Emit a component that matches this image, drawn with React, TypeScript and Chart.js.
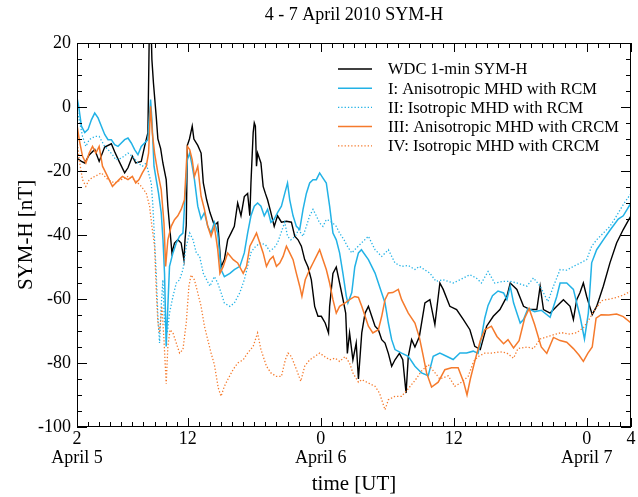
import React, { useEffect, useRef } from "react";
import { Chart, registerables } from "chart.js";

Chart.register(...registerables);

// Time in hours since 5 April 2010 00:00 UT
const wdcT = [2.0, 2.4, 2.7, 3.1, 3.6, 4.0, 4.5, 5.1, 5.4, 5.8, 6.3, 6.6, 7.0, 7.3, 7.8, 8.1, 8.4, 8.55, 8.65, 8.76, 8.9, 9.15, 9.3, 9.55, 9.75, 10.05, 10.2, 10.35, 10.57, 10.8, 11.1, 11.4, 11.65, 11.75, 11.86, 11.96, 12.15, 12.4, 12.55, 12.9, 13.2, 13.4, 13.7, 14.0, 14.4, 14.7, 15.0, 15.3, 15.6, 15.9, 16.2, 16.5, 16.8, 17.1, 17.4, 17.6, 17.7, 17.9, 18.0, 18.1, 18.2, 18.3, 18.6, 18.8, 19.0, 19.2, 19.5, 19.8, 20.1, 20.45, 20.9, 21.35, 21.65, 21.95, 22.25, 22.55, 22.85, 23.15, 23.45, 23.75, 24.05, 24.4, 24.7, 24.8, 25.1, 25.4, 25.7, 26.0, 26.25, 26.4, 26.6, 26.9, 27.2, 27.4, 27.7, 28.0, 28.3, 28.6, 28.9, 29.2, 29.5, 29.8, 30.1, 30.4, 30.7, 31.1, 31.4, 31.7, 31.9, 32.2, 32.5, 32.9, 33.4, 33.85, 34.3, 34.75, 35.05, 35.65, 36.26, 36.86, 37.46, 37.9, 38.4, 38.97, 39.57, 40.17, 40.8, 41.1, 41.7, 42.3, 42.9, 43.5, 43.8, 44.1, 44.7, 45.3, 45.9, 46.5, 46.8, 47.1, 47.4, 47.7, 48.0, 48.5, 48.9, 49.5, 50.1, 50.7, 51.3, 51.8, 52.0];
const wdcV = [-16, -17, -17.5, -15, -13.3, -17, -12.5, -11.5, -14, -17, -20.6, -19, -15.4, -17.5, -17, -12.3, -8, 30, 30, 14.8, 7.5, -3, -10, -13, -17.5, -22.7, -31, -37, -45.6, -42.5, -41.5, -42.5, -47.7, -41.5, -37, -12, -10, -6, -10, -12, -14.4, -23.7, -29, -33, -37, -36, -50, -47.7, -41.5, -39.4, -37.3, -30, -34, -28, -27, -34, -23.7, -8, -5, -6, -18.5, -14.4, -17.5, -24.8, -27, -29, -33, -37.3, -34, -36, -35.7, -36, -40.4, -41.5, -43.5, -47.7, -50, -54, -62.3, -65.4, -65.4, -67.5, -70.6, -62.3, -52, -50, -55, -60, -64.4, -77, -70.6, -79, -73.75, -85, -70.6, -64.4, -62.3, -65.4, -68.5, -69.6, -72.7, -73.75, -77, -81, -79, -77, -79, -89.4, -78, -72.7, -75, -71.7, -61.2, -60.2, -68, -55, -57, -62.3, -63.3, -66.4, -69.6, -74.8, -75.8, -68.5, -65.4, -63.3, -59.2, -55, -57, -62.3, -63.3, -63.3, -56, -63.3, -64.4, -62.3, -60.2, -62.3, -66.4, -60.2, -58, -55, -59.2, -64.9, -62.3, -56, -48.7, -42.5, -38.3, -35.2, -34];

const aniRcmT = [2.0, 2.15, 2.4, 2.7, 3.0, 3.3, 3.6, 3.9, 4.2, 4.5, 4.8, 5.1, 5.4, 5.7, 6.0, 6.3, 6.6, 6.9, 7.2, 7.5, 7.8, 8.1, 8.4, 8.64, 8.76, 8.95, 9.15, 9.36, 9.6, 9.76, 9.9, 10.05, 10.2, 10.35, 10.66, 10.96, 11.26, 11.56, 11.7, 11.96, 12.17, 12.4, 12.6, 12.9, 13.2, 13.5, 13.8, 14.1, 14.4, 14.7, 15.0, 15.3, 15.8, 16.2, 16.7, 17.1, 17.4, 17.7, 18.0, 18.3, 18.6, 18.9, 19.2, 19.5, 19.8, 20.1, 20.45, 20.75, 21.0, 21.2, 21.5, 21.8, 22.1, 22.4, 22.7, 23.0, 23.3, 23.6, 23.9, 24.2, 24.5, 24.8, 25.1, 25.4, 25.7, 26.0, 26.3, 26.45, 26.8, 27.07, 27.4, 27.67, 28.3, 28.9, 29.5, 29.8, 30.1, 30.4, 30.7, 31.3, 31.9, 32.5, 33.1, 33.7, 34.15, 34.75, 35.35, 35.95, 36.56, 37.16, 37.76, 38.2, 38.5, 38.8, 39.1, 39.5, 40.0, 40.5, 40.8, 41.1, 41.4, 41.7, 42.0, 42.3, 42.7, 43.3, 43.9, 44.7, 45.3, 45.6, 46.2, 46.8, 47.4, 47.8, 48.15, 48.45, 48.9, 49.5, 50.1, 50.85, 51.3, 52.0];
const aniRcmV = [3, 0.2, -6, -8, -7, -4, -1.9, -3.4, -6, -8.6, -10.2, -10.2, -11.8, -12.3, -11.25, -10.2, -9.7, -11.25, -13.3, -14.9, -12.3, -11.25, -10.2, 2.3, -4, -18.5, -22.7, -27, -33, -41.5, -52, -74.8, -62.3, -49.8, -45.6, -42.5, -40.4, -39.4, -31, -16.5, -14.4, -18.5, -22.7, -31, -35, -33, -37.3, -39.4, -36, -39.4, -50.8, -53, -52, -50.8, -49.8, -45.6, -39.4, -34, -31, -30, -31, -34, -32, -36, -35, -33, -31, -27, -23.75, -29, -34, -37.3, -38.3, -32, -27, -23.75, -22.7, -22.7, -20.6, -22.2, -23.75, -31, -39.4, -41.5, -45.6, -52, -59, -61.25, -58, -50, -45.6, -44.6, -47.7, -51.9, -58.1, -61.25, -67.5, -72.7, -75.8, -76.9, -77.9, -81, -83.1, -84, -77.9, -76.9, -77.9, -78.9, -76.9, -76.9, -76.3, -77, -72, -66, -62, -59, -57.5, -58.1, -60.2, -56, -61.2, -64.4, -67.5, -66.4, -63, -64, -63.5, -65.7, -59.2, -55, -55, -57, -65.4, -72.5, -64.4, -48.7, -44.6, -41.5, -38.5, -35, -34, -30];

const isoRcmT = [2.0, 2.2, 2.5, 2.8, 3.1, 3.6, 4.0, 4.5, 4.8, 5.2, 5.5, 6.0, 6.6, 7.0, 7.5, 7.9, 8.25, 8.46, 8.7, 8.85, 9.0, 9.15, 9.3, 9.45, 9.6, 9.75, 9.9, 10.15, 10.35, 10.66, 10.96, 11.26, 11.56, 11.86, 12.17, 12.47, 12.77, 13.07, 13.4, 13.7, 14.0, 14.4, 14.7, 15.0, 15.3, 15.8, 16.2, 16.7, 17.1, 17.4, 17.7, 18.0, 18.5, 19.0, 19.4, 19.8, 20.1, 20.45, 20.75, 21.0, 21.3, 21.7, 22.0, 22.4, 22.7, 23.0, 23.3, 23.6, 23.9, 24.2, 24.5, 24.8, 25.1, 25.4, 25.7, 26.1, 26.4, 26.8, 27.07, 27.67, 28.3, 28.9, 29.5, 30.1, 30.7, 31.3, 31.9, 32.5, 32.9, 33.85, 34.4, 35.05, 35.95, 36.56, 37.46, 38.06, 38.5, 39.1, 39.7, 40.5, 41.1, 41.7, 42.6, 43.2, 43.8, 44.5, 45.0, 45.6, 46.2, 46.8, 47.4, 48.0, 48.45, 48.9, 49.5, 50.1, 50.7, 51.3, 52.0];
const isoRcmV = [-0.8, -4, -9.2, -12.3, -10.2, -9.2, -9.2, -12.3, -13.3, -14.9, -16.5, -16, -14.4, -15.4, -17.5, -18.5, -17.5, -20.6, -23.75, -31, -41.5, -52, -65.4, -73.75, -62.3, -54, -67.5, -70.6, -64.4, -59.2, -55, -54, -50.8, -43.5, -39.4, -41.5, -45.6, -46.7, -52, -54, -56, -53, -55, -58, -61.25, -62.3, -61.25, -58, -54, -49.8, -45.5, -44, -42.5, -43, -45, -44, -42.5, -39, -36, -40.4, -41.5, -40.4, -38.3, -40.4, -37.3, -34, -32, -34, -36.25, -37.3, -35.2, -35.5, -36.3, -37.3, -39.4, -41.5, -43.5, -45.6, -44.6, -42.5, -40.4, -44.6, -46.7, -44.6, -48.75, -49.8, -49.5, -50.8, -49.8, -51.9, -54.5, -54, -55, -54, -52.4, -53.5, -55, -51.4, -55, -54.5, -54.5, -55, -56, -53.4, -56, -60.8, -56, -50.8, -51, -49.8, -48.8, -47.7, -43.5, -41.5, -39.4, -37.3, -34, -30.5, -27];

const aniCrcmT = [2.0, 2.2, 2.5, 2.8, 3.1, 3.4, 3.7, 4.0, 4.3, 4.6, 4.9, 5.2, 5.5, 5.8, 6.1, 6.6, 7.0, 7.3, 7.6, 7.9, 8.25, 8.46, 8.64, 8.8, 9.0, 9.3, 9.6, 9.85, 10.0, 10.2, 10.5, 10.8, 11.1, 11.4, 11.7, 11.96, 12.17, 12.4, 12.6, 12.9, 13.2, 13.5, 13.8, 14.1, 14.4, 14.7, 14.9, 15.2, 15.6, 16.1, 16.5, 17.0, 17.3, 17.6, 17.9, 18.2, 18.5, 18.8, 19.1, 19.4, 19.7, 20.0, 20.3, 20.6, 20.9, 21.2, 21.5, 21.8, 22.1, 22.3, 22.6, 23.0, 23.3, 23.6, 23.9, 24.2, 24.5, 24.8, 25.1, 25.4, 25.7, 26.2, 26.6, 27.07, 27.4, 27.7, 28.0, 28.3, 28.7, 29.2, 29.5, 29.8, 30.1, 30.5, 31.0, 31.3, 31.9, 32.5, 32.9, 33.2, 33.55, 34.0, 34.6, 35.2, 35.8, 36.4, 36.9, 37.2, 37.5, 37.9, 38.4, 38.8, 39.4, 39.9, 40.5, 40.9, 41.4, 41.9, 42.4, 42.8, 43.3, 43.9, 44.4, 45.0, 45.6, 46.2, 46.8, 47.3, 47.7, 48.1, 48.5, 48.85, 49.3, 50.0, 50.7, 51.3, 52.0];
const aniCrcmV = [-5.5, -10.2, -15.4, -17.5, -14.4, -12.3, -14.4, -12.3, -18.5, -20.6, -22.7, -24.8, -23.75, -22.7, -21.7, -22.7, -21.7, -23.75, -22.7, -20.6, -18.5, -14.4, 0.2, -8.1, -14.4, -20.6, -25.8, -36.25, -49.8, -41.5, -37.3, -35.2, -34, -32, -29, -12.3, -13.3, -16.5, -21.7, -18.5, -27.9, -32, -37.3, -40.4, -37.3, -44.5, -52, -49.8, -45.6, -47.7, -48.75, -52, -49.8, -43.5, -41.5, -39.4, -42.5, -45.6, -49.8, -47.7, -46.7, -49.8, -48.75, -46.7, -43.5, -45.6, -47.7, -52, -56, -59.2, -54, -50.8, -48.75, -46.7, -44.6, -47.7, -50.8, -55, -60.2, -64.4, -62.3, -61.25, -60.2, -59.2, -59.5, -62.3, -65.4, -68.5, -70.6, -69.6, -65.4, -60.2, -58.1, -58, -57, -60.2, -64.4, -67.5, -72, -77, -83.1, -87.5, -86, -82.1, -81.5, -81.5, -86, -90, -85, -79.5, -73, -69.6, -68.5, -71.7, -74, -72.7, -75.3, -73, -66, -63, -68, -75, -77, -72, -73, -73.5, -75.5, -77.5, -79.5, -77, -75, -66, -64.9, -65, -64.7, -65.5, -67.5];

const isoCrcmT = [2.0, 2.2, 2.5, 2.8, 3.1, 3.6, 4.2, 4.8, 5.4, 6.0, 6.6, 7.2, 7.8, 8.25, 8.55, 8.76, 9.0, 9.15, 9.3, 9.45, 9.66, 9.85, 10.05, 10.2, 10.4, 10.66, 10.96, 11.26, 11.56, 11.86, 12.1, 12.3, 12.6, 12.9, 13.2, 13.5, 13.8, 14.1, 14.4, 14.75, 15.0, 15.3, 15.6, 16.1, 16.5, 17.0, 17.4, 17.9, 18.3, 18.6, 19.1, 19.5, 20.0, 20.45, 20.8, 21.05, 21.35, 21.8, 22.2, 22.55, 23.0, 23.45, 23.9, 24.35, 24.8, 25.3, 25.7, 26.2, 26.6, 26.9, 27.4, 27.7, 28.3, 28.9, 29.3, 29.8, 30.1, 30.7, 31.3, 31.9, 32.5, 33.1, 33.7, 34.3, 34.75, 35.5, 36.1, 36.7, 37.3, 37.8, 38.2, 38.8, 39.4, 40.2, 40.8, 41.4, 41.8, 42.6, 43.2, 43.8, 44.7, 45.7, 46.5, 47.1, 47.7, 48.1, 48.75, 49.35, 50.1, 50.7, 51.3, 52.0];
const isoCrcmV = [-10.5, -16.5, -22.7, -24.8, -22.7, -21.7, -20.6, -22.7, -23.75, -22.7, -21.7, -22.7, -24.8, -26.9, -31, -37.3, -43.5, -57, -67.5, -70.6, -62.3, -72.7, -86.5, -74.8, -69.6, -70.6, -73.75, -76.9, -75.8, -67.5, -56, -52.5, -54, -58.1, -62.3, -68.5, -72.7, -76.9, -80.5, -87.8, -90.4, -87.3, -85.2, -82, -80, -79, -76.9, -74.8, -70.6, -75.8, -81, -83.1, -84.2, -84.2, -79, -76.9, -78, -82, -85.7, -81, -79, -78, -76.9, -78, -79, -78.5, -79.5, -78, -80, -83.1, -86, -85.2, -86.25, -87.3, -89.4, -94.6, -91.5, -90.4, -90.4, -88, -85.5, -82.5, -80.5, -83, -85, -84, -87.3, -86, -84.2, -79.5, -78, -76.9, -76.9, -76.5, -76.9, -78.5, -75.5, -75, -75.5, -72.5, -71.5, -70.5, -71, -70.5, -69, -67, -63.3, -60.5, -60, -59.5, -58.8, -57.5];

const xTickValues = [2, 12, 24, 36, 48, 52];
const xTickHours = ["2", "12", "0", "12", "0", "4"];
const xTickDates = ["April 5", "", "April 6", "", "April 7", ""];
const seriesNames = [
  "WDC 1-min SYM-H",
  "I: Anisotropic MHD with RCM",
  "II: Isotropic MHD with RCM",
  "III: Anisotropic MHD with CRCM",
  "IV: Isotropic MHD with CRCM",
];

const BLUE = "#22b2e6";
const ORANGE = "#f57a2c";
const FONT = '"Liberation Serif", "Times New Roman", serif';

const pts = (t: number[], v: number[]) => t.map((x, i) => ({ x, y: v[i] }));

const seriesStyles = [
  { color: "#000000", dash: [] as number[], width: 1.4 },
  { color: BLUE, dash: [] as number[], width: 1.5 },
  { color: BLUE, dash: [1.3, 2], width: 1.3 },
  { color: ORANGE, dash: [] as number[], width: 1.5 },
  { color: ORANGE, dash: [1.3, 2], width: 1.3 },
];

const framePlugin = {
  id: "frameTicksLegend",
  afterDatasetsDraw(chart: any) {
    const { ctx, chartArea, scales } = chart;
    const { left, right, top, bottom } = chartArea;
    const x = scales.x;
    const y = scales.y;
    ctx.save();
    ctx.strokeStyle = "#000";
    ctx.lineWidth = 1;
    ctx.setLineDash([]);
    const line = (x1: number, y1: number, x2: number, y2: number) => {
      ctx.beginPath();
      ctx.moveTo(x1, y1);
      ctx.lineTo(x2, y2);
      ctx.stroke();
    };
    ctx.strokeRect(Math.round(left) + 0.5, Math.round(top) + 0.5, Math.round(right - left) - 1, Math.round(bottom - top) - 1);
    for (let h = 2; h <= 52; h += 1) {
      const px = Math.round(x.getPixelForValue(h)) + 0.5;
      const len = xTickValues.includes(h) ? 9 : 5;
      line(px, bottom, px, bottom - len);
      line(px, top, px, top + len);
    }
    for (let v = -100; v <= 20; v += 5) {
      const py = Math.round(y.getPixelForValue(v)) + 0.5;
      const len = v % 20 === 0 ? 10 : 5;
      line(left, py, left + len, py);
      line(right, py, right - len, py);
    }
    // legend
    const lx0 = 338, lx1 = 372, tx = 388, y0 = 69, dy = 19.2;
    ctx.font = `16.5px ${FONT}`;
    ctx.textBaseline = "middle";
    ctx.textAlign = "left";
    seriesNames.forEach((name, i) => {
      const st = seriesStyles[i];
      const yy = y0 + i * dy;
      ctx.strokeStyle = st.color;
      ctx.lineWidth = st.width;
      ctx.setLineDash(st.dash);
      line(lx0, yy, lx1, yy);
      ctx.fillStyle = "#000";
      ctx.fillText(name, tx, yy + 1);
    });
    ctx.restore();
  },
};

export default function App() {
  const ref = useRef<HTMLCanvasElement | null>(null);
  useEffect(() => {
    document.body.style.margin = "0";
    const canvas = ref.current;
    if (!canvas) return;
    const series = [
      pts(wdcT, wdcV),
      pts(aniRcmT, aniRcmV),
      pts(isoRcmT, isoRcmV),
      pts(aniCrcmT, aniCrcmV),
      pts(isoCrcmT, isoCrcmV),
    ];
    const chart = new Chart(canvas, {
      type: "line",
      data: {
        datasets: series.map((d, i) => ({
          label: seriesNames[i],
          data: d,
          borderColor: seriesStyles[i].color,
          borderWidth: seriesStyles[i].width,
          borderDash: seriesStyles[i].dash,
          pointRadius: 0,
          tension: 0,
          fill: false,
          clip: 0,
          order: 5 - i,
        })),
      },
      options: {
        animation: false,
        responsive: false,
        devicePixelRatio: 1,
        layout: { padding: { left: 0, right: 7, top: 0, bottom: 0 } },
        plugins: {
          legend: { display: false },
          tooltip: { enabled: false },
          title: {
            display: true,
            text: "4 - 7 April 2010 SYM-H",
            color: "#000",
            font: { family: FONT, size: 18, weight: "normal" },
            padding: { top: 4, bottom: 17.4 },
            fullSize: false,
          },
        },
        scales: {
          x: {
            type: "linear",
            min: 2,
            max: 52,
            grid: { display: false, drawTicks: false },
            border: { display: false },
            afterBuildTicks: (scale: any) => {
              scale.ticks = xTickValues.map((v) => ({ value: v }));
            },
            afterFit: (scale: any) => {
              scale.height = 70;
              scale.paddingLeft = 0;
              scale.paddingRight = 0;
            },
            ticks: {
              autoSkip: false,
              maxRotation: 0,
              padding: 3,
              color: "#000",
              font: { family: FONT, size: 18, lineHeight: 1.05 },
              callback: (value: any) => {
                const i = xTickValues.indexOf(Number(value));
                if (i < 0) return "";
                return xTickDates[i] ? [xTickHours[i], xTickDates[i]] : xTickHours[i];
              },
            },
            title: {
              display: true,
              text: "time [UT]",
              color: "#000",
              font: { family: FONT, size: 21 },
              padding: { top: 0, bottom: 0 },
            },
          },
          y: {
            type: "linear",
            min: -100,
            max: 20,
            grid: { display: false, drawTicks: false },
            border: { display: false },
            afterFit: (scale: any) => {
              scale.width = 77;
              scale.paddingTop = 0;
              scale.paddingBottom = 0;
            },
            ticks: {
              stepSize: 20,
              padding: 6,
              color: "#000",
              font: { family: FONT, size: 18 },
              callback: (value: any) => String(value),
            },
            title: {
              display: true,
              text: "SYM-H [nT]",
              color: "#000",
              font: { family: FONT, size: 21 },
              padding: { top: 14, bottom: 0 },
            },
          },
        },
      },
      plugins: [framePlugin],
    } as any);
    return () => chart.destroy();
  }, []);
  return <canvas ref={ref} width={638} height={497} style={{ display: "block" }} />;
}
